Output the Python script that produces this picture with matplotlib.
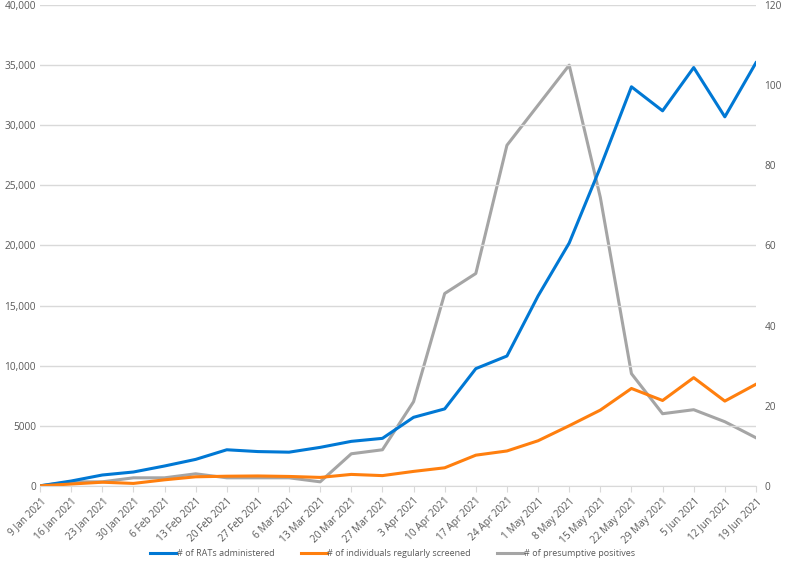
import matplotlib.pyplot as plt
from matplotlib.ticker import FuncFormatter

dates = ["9 Jan 2021", "16 Jan 2021", "23 Jan 2021", "30 Jan 2021", "6 Feb 2021",
         "13 Feb 2021", "20 Feb 2021", "27 Feb 2021", "6 Mar 2021", "13 Mar 2021",
         "20 Mar 2021", "27 Mar 2021", "3 Apr 2021", "10 Apr 2021", "17 Apr 2021",
         "24 Apr 2021", "1 May 2021", "8 May 2021", "15 May 2021", "22 May 2021",
         "29 May 2021", "5 Jun 2021", "12 Jun 2021", "19 Jun 2021"]

rats = [0, 400, 900, 1150, 1650, 2200, 3000, 2850, 2800, 3200, 3700, 3950,
        5700, 6400, 9750, 10800, 15800, 20200, 26500, 33200, 31200, 34800, 30700, 35200]
screened = [0, 150, 300, 200, 500, 750, 800, 820, 780, 700, 950, 850,
            1200, 1500, 2550, 2900, 3750, 5000, 6300, 8100, 7100, 9000, 7050, 8450]
positives = [0, 1, 1, 2, 2, 3, 2, 2, 2, 1, 8, 9,
             21, 48, 53, 85, 95, 105, 72, 28, 18, 19, 16, 12]

plt.rcParams['font.family'] = ['Open Sans', 'DejaVu Sans']
txt = '#595959'
grid = '#D9D9D9'

fig = plt.figure(figsize=(7.85, 5.61), dpi=100)
ax = fig.add_axes([0.051, 0.134, 0.912, 0.857])
ax2 = ax.twinx()

x = list(range(len(dates)))
l1, = ax.plot(x, rats, color='#0078D4', lw=2.2, label='# of RATs administered')
l2, = ax.plot(x, screened, color='#FF7F0E', lw=2.2, label='# of individuals regularly screened')
l3, = ax2.plot(x, positives, color='#A5A5A5', lw=2.2, label='# of presumptive positives')

ax.set_xlim(0, len(dates) - 1)
ax.set_ylim(0, 40000)
ax2.set_ylim(0, 120)
ax.set_yticks(range(0, 40001, 5000))
ax.yaxis.set_major_formatter(FuncFormatter(lambda v, p: '{:,.0f}'.format(v) if v >= 10000 else '{:.0f}'.format(v)))
ax2.set_yticks(range(0, 121, 20))
ax.set_xticks(x)
ax.set_xticklabels(dates, rotation=45, ha='right', rotation_mode='anchor')

ax.grid(axis='y', color=grid, lw=1)
ax.set_axisbelow(True)
for a in (ax, ax2):
    for s in a.spines.values():
        s.set_visible(False)
    a.tick_params(axis='both', length=0, labelsize=7.3, colors=txt)
ax.spines['bottom'].set_visible(True)
ax.spines['bottom'].set_color(grid)
ax.tick_params(axis='x', length=4, color=grid, pad=3)
ax.tick_params(axis='y', pad=3)
ax2.tick_params(axis='y', pad=6)
ax2.set_zorder(ax.get_zorder() - 1)
ax.patch.set_visible(False)

fig.legend(handles=[l1, l2, l3], loc='lower center', ncol=3, frameon=False,
           fontsize=6.5, labelcolor=txt, bbox_to_anchor=(0.5, -0.01),
           handlelength=2.9, handletextpad=0.05, columnspacing=2.9)

fig.savefig('out.png', dpi=100)
